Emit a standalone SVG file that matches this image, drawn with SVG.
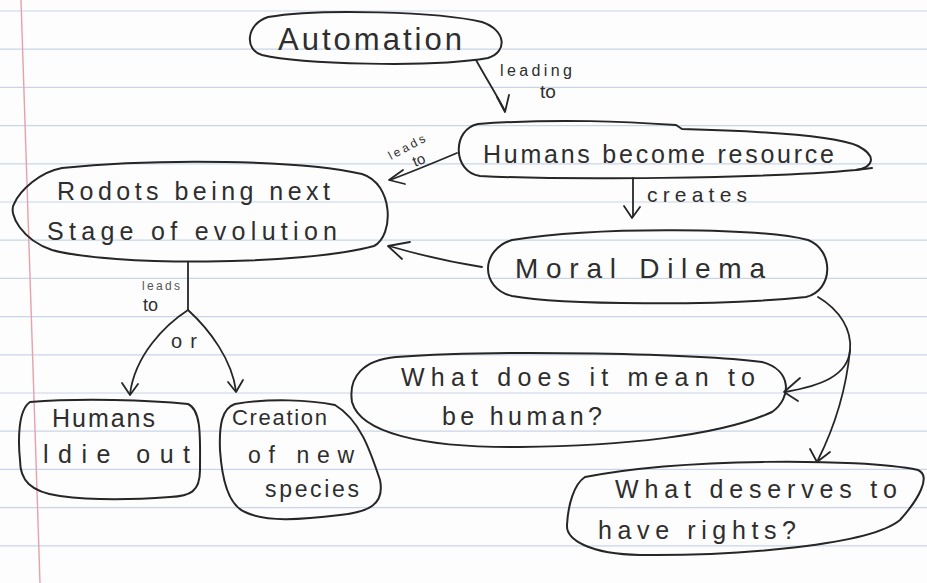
<svg xmlns="http://www.w3.org/2000/svg" width="927" height="583" viewBox="0 0 927 583">
  <style>
    .rule { stroke: #c9d5e7; stroke-width: 1.2; }
    .margin { stroke: #e8a0ab; stroke-width: 1.4; fill: none; }
    .blob { fill: none; stroke: #262626; stroke-width: 2; stroke-linejoin: round; stroke-linecap: round; }
    .edge { fill: none; stroke: #262626; stroke-width: 1.8; stroke-linecap: round; stroke-linejoin: round; }
    text { font-family: "Liberation Sans", "DejaVu Sans", Arial, sans-serif; fill: #2e2e2e; }
    .t { font-size: 25px; }
    .lbl { font-size: 16px; }
    .small { font-size: 12px; fill: #555; }
  </style>

  <!-- paper -->
  <rect width="927" height="583" fill="#fdfdfd"/>
  <g id="paper-lines">
    <line class="rule" x1="0" y1="11" x2="927" y2="11"/>
    <line class="rule" x1="0" y1="49.2" x2="927" y2="49.2"/>
    <line class="rule" x1="0" y1="87.4" x2="927" y2="87.4"/>
    <line class="rule" x1="0" y1="125.6" x2="927" y2="125.6"/>
    <line class="rule" x1="0" y1="163.8" x2="927" y2="163.8"/>
    <line class="rule" x1="0" y1="202" x2="927" y2="202"/>
    <line class="rule" x1="0" y1="240.2" x2="927" y2="240.2"/>
    <line class="rule" x1="0" y1="278.4" x2="927" y2="278.4"/>
    <line class="rule" x1="0" y1="316.6" x2="927" y2="316.6"/>
    <line class="rule" x1="0" y1="354.8" x2="927" y2="354.8"/>
    <line class="rule" x1="0" y1="393" x2="927" y2="393"/>
    <line class="rule" x1="0" y1="431.2" x2="927" y2="431.2"/>
    <line class="rule" x1="0" y1="469.4" x2="927" y2="469.4"/>
    <line class="rule" x1="0" y1="507.6" x2="927" y2="507.6"/>
    <line class="rule" x1="0" y1="545.8" x2="927" y2="545.8"/>
    <line class="margin" x1="21" y1="0" x2="40" y2="583"/>
  </g>

  <!-- connectors -->
  <g id="connectors">
    <!-- Automation -> Humans become resource -->
    <path class="edge" d="M 476,60 C 486,78 496,94 505,111"/>
    <path class="edge" d="M 497,97 L 505,112 L 509,95"/>
    <text class="lbl" x="500" y="76" textLength="72" lengthAdjust="spacing">leading</text>
    <text x="540" y="98" font-size="19">to</text>

    <!-- Humans become resource -> Robots -->
    <path class="edge" d="M 457,153 C 438,161 414,171 390,180"/>
    <path class="edge" d="M 403,170 L 389,180 L 405,184"/>
    <text x="391" y="160" font-size="12" transform="rotate(-28 391 160)" textLength="40" lengthAdjust="spacing">leads</text>
    <text x="415" y="167" font-size="15" transform="rotate(-22 415 167)">to</text>

    <!-- Humans become resource -> Moral Dilema -->
    <path class="edge" d="M 633,178 L 633,216"/>
    <path class="edge" d="M 624,206 L 632,218 L 640,207"/>
    <text x="647" y="202" font-size="21" textLength="100" lengthAdjust="spacing">creates</text>

    <!-- Moral Dilema -> Robots -->
    <path class="edge" d="M 482,267 C 450,262 420,255 389,246"/>
    <path class="edge" d="M 410,242 L 388,246 L 402,259"/>

    <!-- Moral Dilema -> the two questions -->
    <path class="edge" d="M 818,297 C 840,310 852,330 850,350 C 848,376 820,386 785,392"/>
    <path class="edge" d="M 800,378 L 784,392 L 798,401"/>
    <path class="edge" d="M 850,350 C 846,392 833,430 818,460"/>
    <path class="edge" d="M 810,449 L 817,462 L 830,452"/>

    <!-- Robots -> outcomes -->
    <path class="edge" d="M 188,262 L 188,310"/>
    <path class="edge" d="M 188,310 C 165,325 135,355 130,394"/>
    <path class="edge" d="M 122,383 L 130,395 L 138,384"/>
    <path class="edge" d="M 188,310 C 210,330 232,360 236,391"/>
    <path class="edge" d="M 228,382 L 236,392 L 243,380"/>
    <text class="small" x="142" y="290" textLength="38" lengthAdjust="spacing">leads</text>
    <text x="143" y="311" font-size="18">to</text>
    <text x="171" y="348" font-size="20" textLength="26" lengthAdjust="spacing">or</text>
  </g>

  <!-- nodes -->
  <g id="automation">
    <path class="blob" d="M 268,17 C 320,8 440,12 482,22 C 506,30 508,52 488,58 C 430,68 300,64 262,55 C 244,50 246,24 268,17 Z"/>
    <text x="278" y="50" font-size="31" textLength="184" lengthAdjust="spacing">Automation</text>
  </g>

  <g id="humans-become-resource">
    <path class="blob" d="M 478,124 C 560,118 630,122 676,125 L 682,129 C 760,131 836,136 858,146 C 877,156 874,167 856,170 C 760,179 560,180 480,176 C 452,172 452,129 478,124 Z"/>
    <path class="blob" d="M 856,170 L 872,168"/>
    <text class="t" x="483" y="163" textLength="351" lengthAdjust="spacing">Humans become resource</text>
  </g>

  <g id="robots-next-stage">
    <path class="blob" d="M 62,168 C 160,158 300,160 362,174 C 394,184 394,236 374,246 C 300,266 110,266 52,250 C 22,240 8,214 14,204 C 20,190 40,172 62,168 Z"/>
    <text class="t" x="57" y="200" textLength="273" lengthAdjust="spacing">Rodots being next</text>
    <text class="t" x="47" y="240" textLength="290" lengthAdjust="spacing">Stage of evolution</text>
  </g>

  <g id="moral-dilema">
    <path class="blob" d="M 512,240 C 600,226 760,228 808,240 C 834,250 834,290 806,297 C 720,306 560,305 512,296 C 480,288 480,250 512,240 Z"/>
    <text x="515" y="278" font-size="28" textLength="250" lengthAdjust="spacing">Moral Dilema</text>
  </g>

  <g id="mean-to-be-human">
    <path class="blob" d="M 396,357 C 500,349 700,354 762,362 C 792,370 792,398 772,412 C 720,436 620,446 520,447 C 420,448 360,432 352,402 C 348,376 364,360 396,357 Z"/>
    <text class="t" x="401" y="386" textLength="354" lengthAdjust="spacing">What does it mean to</text>
    <text class="t" x="442" y="425" textLength="160" lengthAdjust="spacing">be human?</text>
  </g>

  <g id="deserves-rights">
    <path class="blob" d="M 585,477 C 680,458 860,458 918,470 C 932,476 918,500 900,520 C 870,545 740,556 640,555 C 590,554 566,540 567,525 C 568,505 574,484 585,477 Z"/>
    <text class="t" x="615" y="498" textLength="282" lengthAdjust="spacing">What deserves to</text>
    <text class="t" x="598" y="539" textLength="198" lengthAdjust="spacing">have rights?</text>
  </g>

  <g id="humans-die-out">
    <path class="blob" d="M 30,402 C 80,398 150,400 188,404 C 202,410 200,440 200,470 C 200,492 190,496 170,497 C 130,500 90,500 60,496 C 30,492 20,480 20,460 C 18,440 18,410 30,402 Z"/>
    <text class="t" x="52" y="427" textLength="103" lengthAdjust="spacing">Humans</text>
    <text class="t" x="43" y="463" textLength="147" lengthAdjust="spacing">ldie out</text>
  </g>

  <g id="new-species">
    <path class="blob" d="M 235,404 C 270,398 310,400 335,405 C 360,420 370,450 380,480 C 385,505 368,512 340,515 C 300,520 265,522 245,512 C 228,505 222,480 220,450 C 219,425 222,408 235,404 Z"/>
    <text x="232" y="425" font-size="22" textLength="95" lengthAdjust="spacing">Creation</text>
    <text x="248" y="463" font-size="23" textLength="106" lengthAdjust="spacing">of new</text>
    <text x="265" y="497" font-size="23" textLength="94" lengthAdjust="spacing">species</text>
  </g>
</svg>
